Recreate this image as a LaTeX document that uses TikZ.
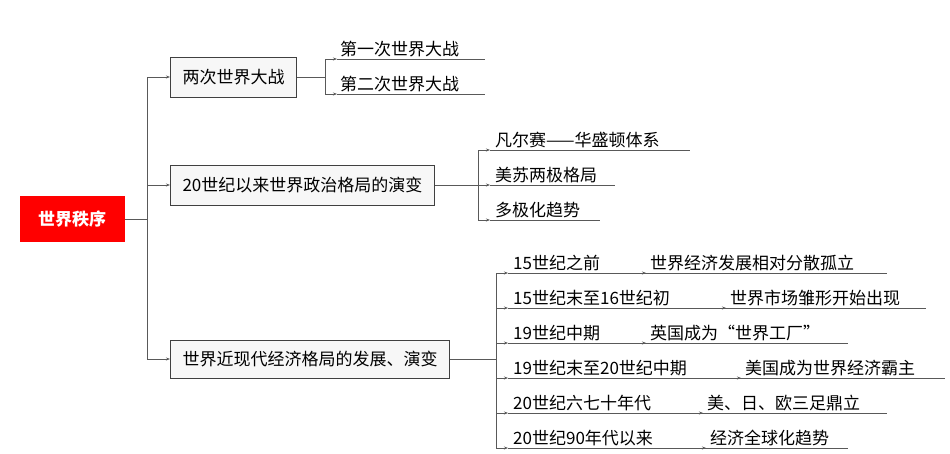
\documentclass[tikz,border=0pt]{standalone}
\usepackage{fontspec}
\setmainfont{Noto Sans CJK SC}
\usetikzlibrary{arrows.meta}
\begin{document}
\begin{tikzpicture}[x=1pt,y=-1pt,
  ln/.style={draw=black!65,line width=0.9pt},
  ar/.style={ln,-{Stealth[length=4pt,width=3pt]}},
  box/.style={draw=black!75,fill=black!3,line width=1pt,minimum height=40pt,inner xsep=12pt,font=\fontsize{17}{20}\selectfont,anchor=west},
  lf/.style={font=\fontsize{17}{20}\selectfont,anchor=south west,inner sep=2pt}]
\useasboundingbox (0,0) rectangle (950,453);
\node[fill=red,text=white,minimum width=105pt,minimum height=46pt,font=\fontsize{17}{20}\selectfont\bfseries] (root) at (72,219) {世界秩序};
\node[box] (b1) at (170,77) {两次世界大战};
\node[box] (b2) at (170,185) {20世纪以来世界政治格局的演变};
\node[box,minimum height=38pt] (b3) at (170,359) {世界近现代经济格局的发展、演变};
\coordinate (t) at (147,219);
\draw[ln] (root.east) -- (t);
\draw[ln] (147,77) -- (147,359);
\foreach \b in {b1,b2,b3}{\draw[ar] (147,0 |- \b.west) -- (\b.west);}
% b1 leaves
\coordinate (t1) at (325,77);
\draw[ln] (b1.east) -- (t1);
\draw[ln] (325,59) -- (325,94);
\foreach \y/\t [count=\i] in {59/第一次世界大战,94/第二次世界大战}{
  \coordinate (e1\i) at (485,\y);
  \draw[ar] (325,\y) -- ++(12,0); \draw[ln] (337,\y) -- (e1\i);
  \node[lf] (l1\i) at (338,\y) {\t};}
% b2 leaves
\coordinate (t2) at (478,185);
\draw[ln] (b2.east) -- (t2);
\draw[ln] (478,150) -- (478,220);
\foreach \y/\e/\t [count=\i] in {150/690/凡尔赛——华盛顿体系,185/615/美苏两极格局,220/600/多极化趋势}{
  \coordinate (e2\i) at (\e,\y);
  \draw[ar] (478,\y) -- ++(12,0); \draw[ln] (490,\y) -- (e2\i);
  \node[lf] (l2\i) at (493,\y) {\t};}
% b3 leaves
\coordinate (t3) at (496,359);
\draw[ln] (b3.east) -- (t3);
\draw[ln] (496,273) -- (496,448);
\foreach \y/\m/\e/\a/\b [count=\i] in {273/640/887/15世纪之前/世界经济发展相对分散孤立,
  308/720/926/15世纪末至16世纪初/世界市场雏形开始出现,
  343/640/848/19世纪中期/英国成为“世界工厂”,
  378/735/945/19世纪末至20世纪中期/美国成为世界经济霸主,
  413/697/887/20世纪六七十年代/美、日、欧三足鼎立,
  448/700/848/20世纪90年代以来/经济全球化趋势}{
  \coordinate (m3\i) at (\m,\y);
  \coordinate (e3\i) at (\e,\y);
  \draw[ar] (496,\y) -- ++(12,0); \draw[ln] (508,\y) -- (m3\i);
  \draw[ar] (m3\i) -- ++(6,0); \draw[ln] (m3\i) -- (e3\i);
  \node[lf] (a3\i) at (511,\y) {\a};
  \node[lf] (c3\i) at ([xshift=8pt]m3\i) {\b};}
\end{tikzpicture}
\end{document}
